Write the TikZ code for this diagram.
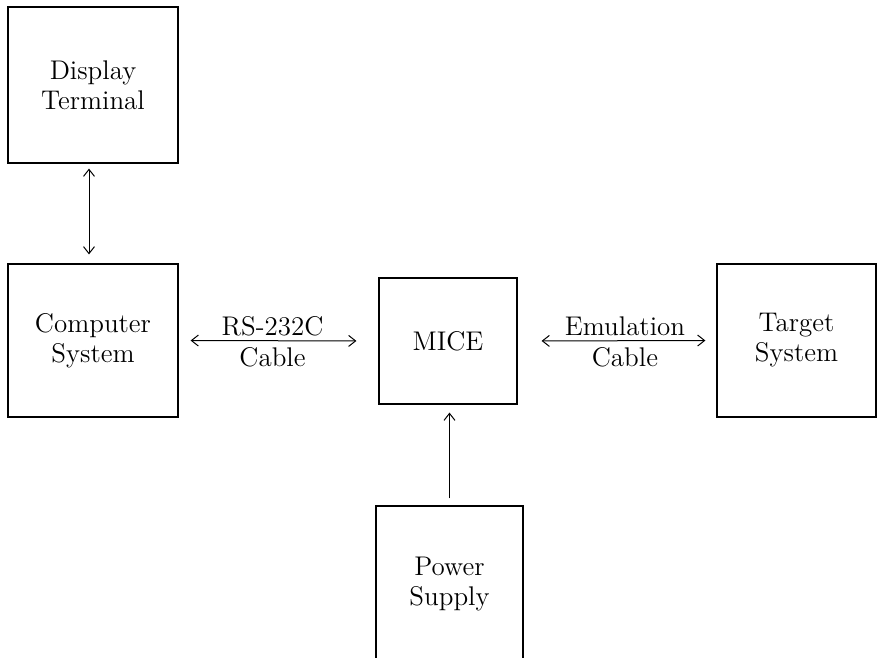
\documentclass[tikz,border=0pt]{standalone}
\usepackage{tikz}
\usetikzlibrary{arrows.meta,calc,positioning}
\tikzset{
  block/.style={
    draw=black,
    line width=.6pt,
    fill=white,
    align=center,
    inner sep=0pt,
    font=\fontsize{13.5}{15}\selectfont
  },
  cable/.style={
    {Straight Barb[length=3.5pt,width=5.5pt]}-{Straight Barb[length=3.5pt,width=5.5pt]},
    line width=.5pt,
    black
  },
  feed/.style={
    -{Straight Barb[length=3.5pt,width=5.5pt]},
    line width=.5pt,
    black
  },
  tag/.style={
    font=\fontsize{13.5}{15}\selectfont
  }
}

\begin{document}
\begin{tikzpicture}[x=.5pt,y=-.5pt]
\useasboundingbox (0,0) rectangle (879,658);
\node[block, minimum width=85pt, minimum height=78pt] (display) at (93,85) {Display\\Terminal};
\node[block, minimum width=85pt, minimum height=76.5pt] (computer) at (93,340.5) {Computer\\System};
\node[block, minimum width=69pt, minimum height=63pt] (mice) at (448,341) {MICE};
\node[block, minimum width=79.5pt, minimum height=76.5pt] (target) at (796.5,340.5) {Target\\System};
\node[block, minimum width=73.5pt, minimum height=78pt] (power) at (449.5,584) {Power\\Supply};
\draw[cable, shorten <=2.5pt, shorten >=4.5pt] ([xshift=-2pt]display.south) -- ([xshift=-2pt]computer.north);
\draw[cable, shorten <=6pt, shorten >=11pt] (computer.east) -- (mice.west)
  node[tag, pos=.47, above, inner sep=2pt] (rs) {RS-232C}
  node[tag, pos=.47, below, inner sep=3pt] (rscable) {Cable};
\draw[cable, shorten <=12pt, shorten >=5.5pt] (mice.east) -- (target.west)
  node[tag, pos=.54, above, inner sep=2pt] (emu) {Emulation}
  node[tag, pos=.54, below, inner sep=3pt] (emucable) {Cable};
\draw[feed, shorten <=3.5pt, shorten >=4pt] (power.north) -- (power.north |- mice.south);
\end{tikzpicture}
\end{document}
